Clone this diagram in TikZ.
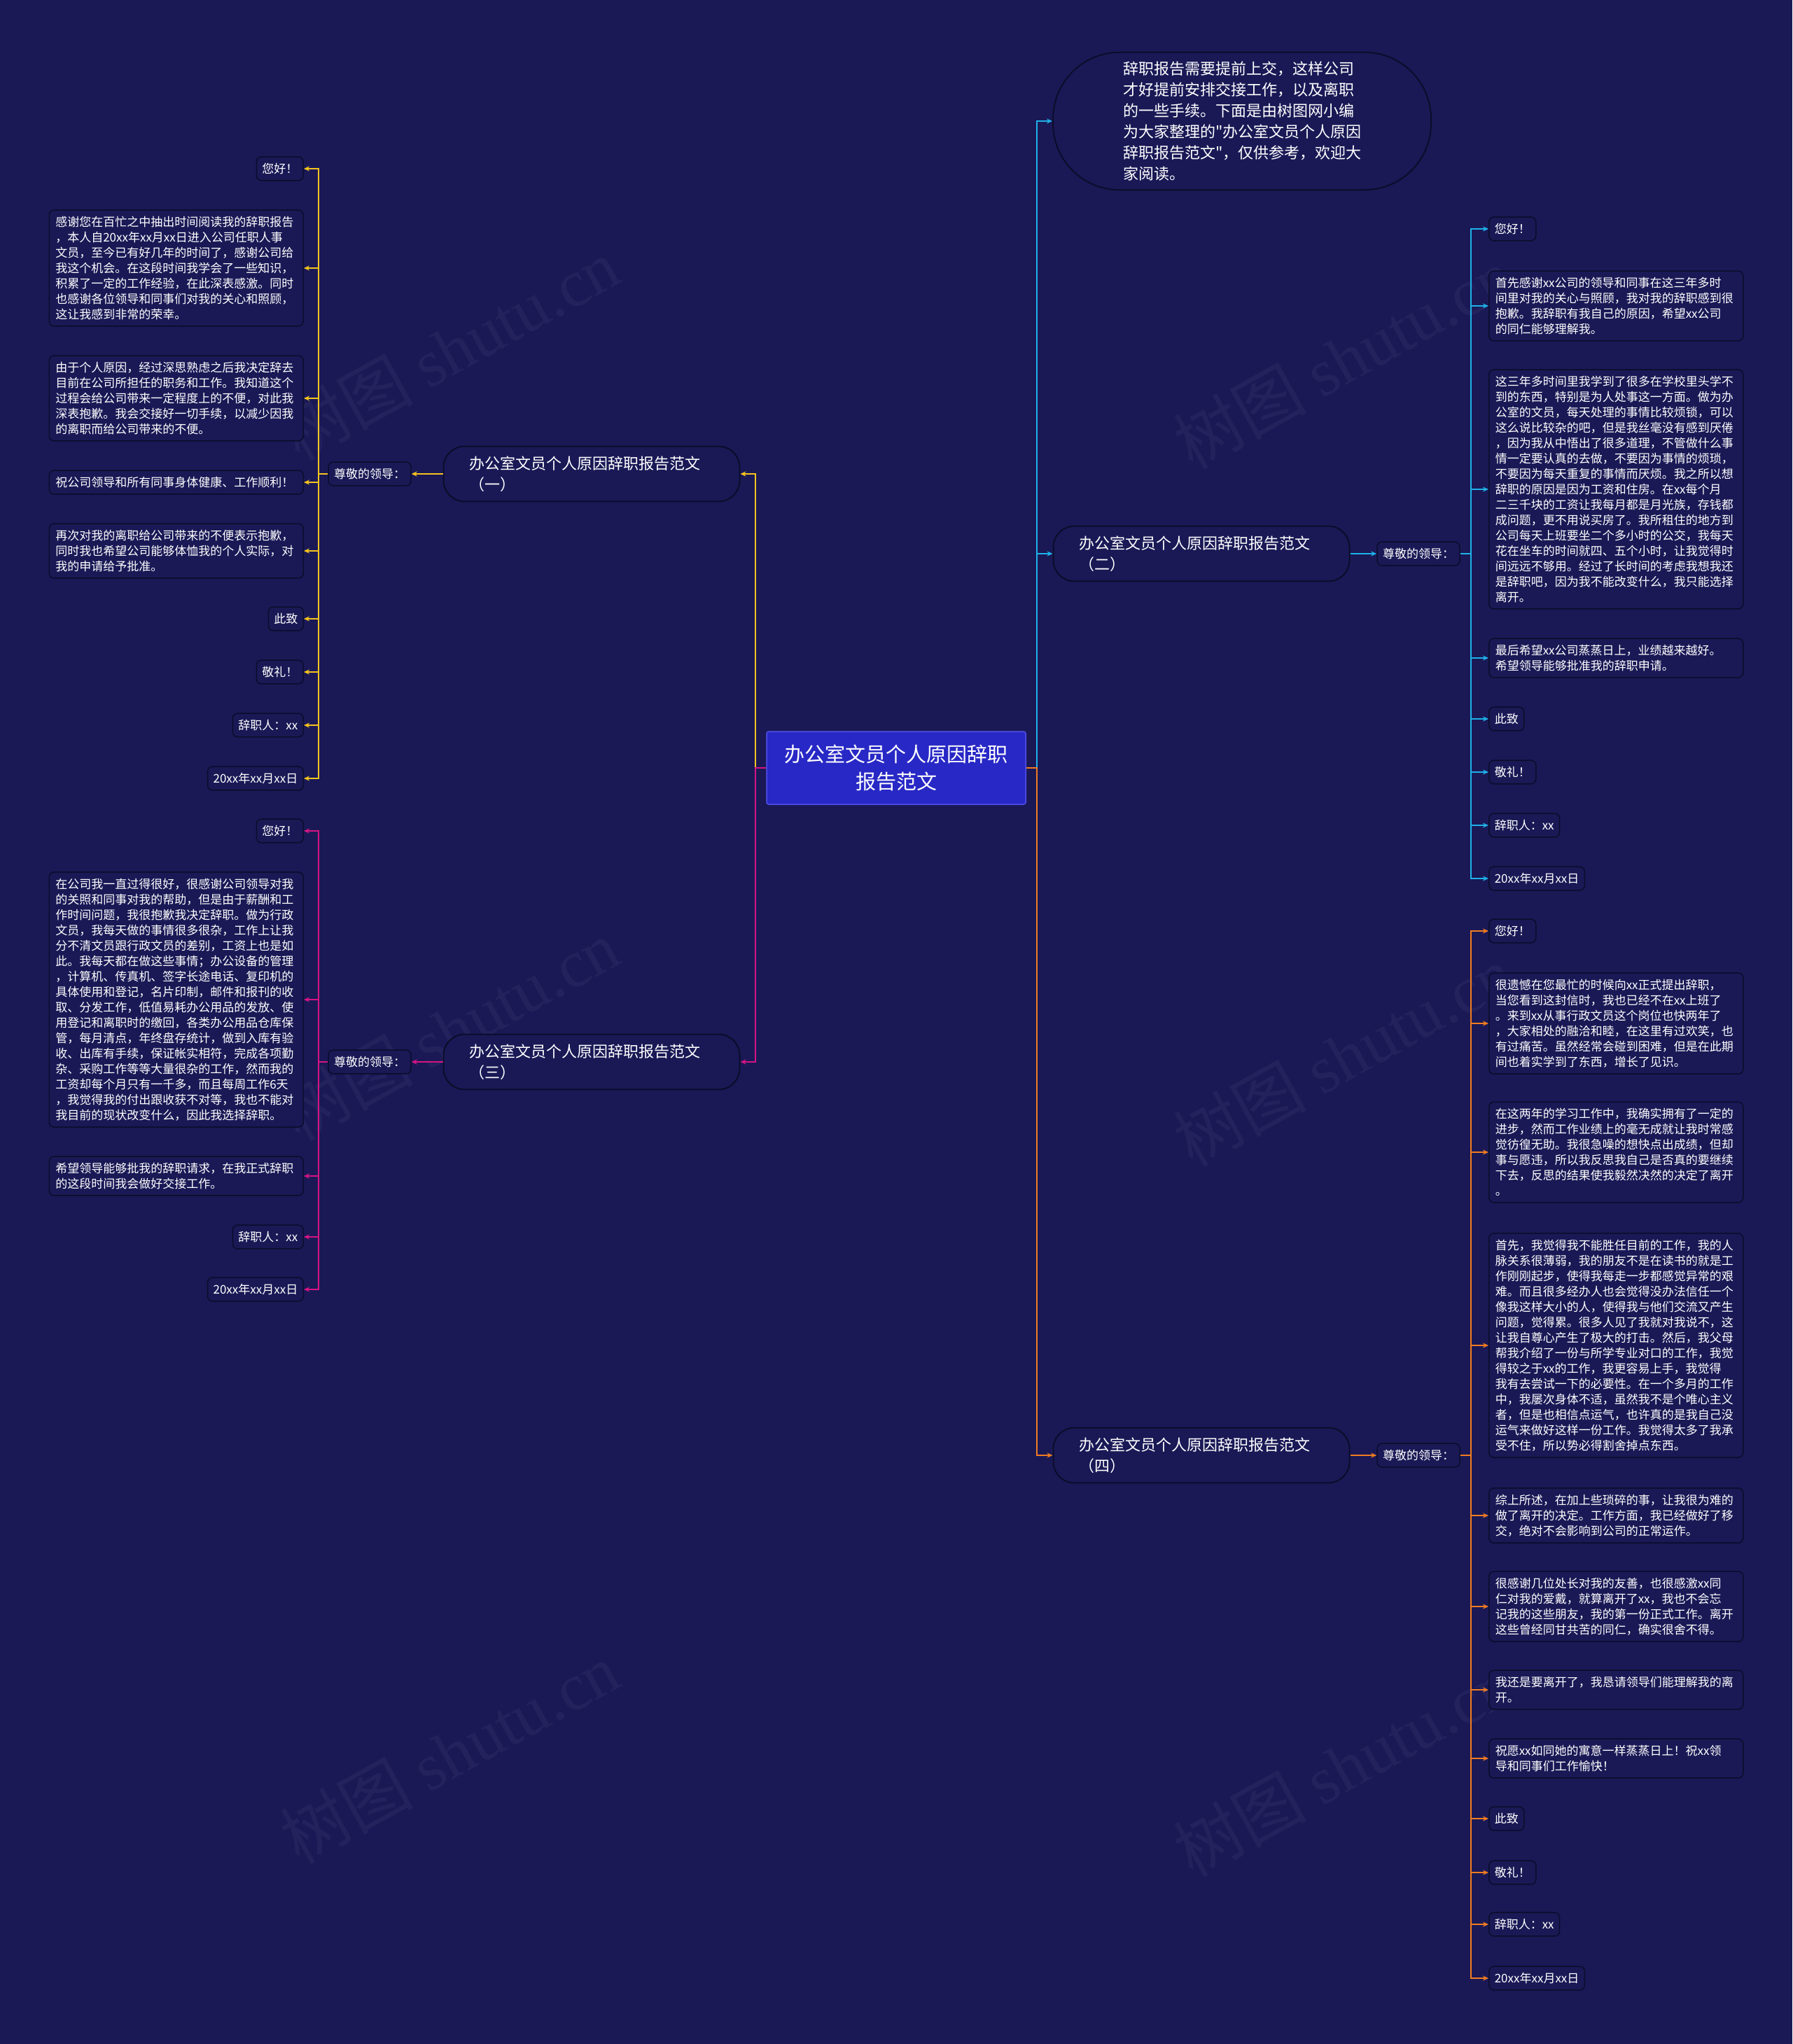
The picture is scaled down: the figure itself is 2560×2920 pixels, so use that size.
\documentclass[tikz,border=0pt]{standalone}
\usepackage{fontspec}
\setmainfont{Noto Sans CJK SC}[Ligatures=TeXOff]
\newfontfamily\wmfont{Liberation Serif}
\usetikzlibrary{arrows.meta}
\definecolor{bg}{RGB}{26,25,86}
\definecolor{edge}{RGB}{12,12,42}
\definecolor{ctrfill}{RGB}{40,40,198}
\definecolor{ctredge}{RGB}{80,80,235}
\definecolor{ylwc}{RGB}{246,196,30}
\definecolor{magc}{RGB}{214,20,130}
\definecolor{cync}{RGB}{30,178,232}
\definecolor{orgc}{RGB}{242,124,32}
\tikzset{
  x=1pt, y=-1pt,
  leaf/.style={draw=edge, fill=bg, rounded corners=7pt, line width=1.5pt, text=white,
    font=\fontsize{17}{22}\selectfont, inner xsep=8pt, inner ysep=9pt, align=left},
  leafw/.style={leaf, text width=345pt, inner xsep=9pt},
  branch/.style={draw=edge, fill=bg, line width=2pt, rounded corners=30pt, text=white,
    font=\fontsize{22}{30}\selectfont, align=left, text width=349pt, inner xsep=37pt, inner ysep=14pt},
  intro/.style={draw=edge, fill=bg, line width=2pt, rounded corners=95pt, text=white,
    font=\fontsize{22}{30}\selectfont, align=left, text width=340pt, inner xsep=100pt, inner ysep=13pt},
  ctr/.style={draw=ctredge, fill=ctrfill, line width=1.5pt, rounded corners=3pt, text=white,
    font=\fontsize{29}{39}\selectfont, align=center, minimum width=370pt, minimum height=104pt},
  conn/.style={line width=2pt, -{Stealth[length=8pt,width=7pt]}},
  cy/.style={conn, draw=cync},
  yl/.style={conn, draw=ylwc},
  mg/.style={conn, draw=magc},
  og/.style={conn, draw=orgc},
  wm/.style={text=white, opacity=0.045, rotate=29, font=\fontsize{95}{95}\selectfont},
}
\begin{document}
\begin{tikzpicture}
\useasboundingbox (0,0) rectangle (2560,2920);
\fill[bg] (0,0) rectangle (2560,2920);

% watermarks
\node[wm] (wm1) at (642,499) {树图 {\wmfont shutu.cn}};
\node[wm] (wm2) at (1918,512) {树图 {\wmfont shutu.cn}};
\node[wm] (wm3) at (642,1471) {树图 {\wmfont shutu.cn}};
\node[wm] (wm4) at (1918,1508) {树图 {\wmfont shutu.cn}};
\node[wm] (wm5) at (642,2504) {树图 {\wmfont shutu.cn}};
\node[wm] (wm6) at (1918,2523) {树图 {\wmfont shutu.cn}};

% center
\node[ctr] (ctr) at (1280,1097) {办公室文员个人原因辞职\\报告范文};

% intro
\node[intro] (intro) at (1774,173) {辞职报告需要提前上交，这样公司\\才好提前安排交接工作，以及离职\\的一些手续。下面是由树图网小编\\为大家整理的"办公室文员个人原因\\辞职报告范文"，仅供参考，欢迎大\\家阅读。};

% branches
\node[branch] (b1) at (845,677) {办公室文员个人原因辞职报告范文\\（一）};
\node[branch] (b3) at (845,1517) {办公室文员个人原因辞职报告范文\\（三）};
\node[branch] (b2) at (1716,791) {办公室文员个人原因辞职报告范文\\（二）};
\node[branch] (b4) at (1716,2079) {办公室文员个人原因辞职报告范文\\（四）};

% labels
\node[leaf] (lab1) at (528,677) {尊敬的领导：};
\node[leaf] (lab3) at (528,1517) {尊敬的领导：};
\node[leaf] (lab2) at (2026,791) {尊敬的领导：};
\node[leaf] (lab4) at (2026,2079) {尊敬的领导：};

% left (一) leaves
\node[leaf, anchor=east] (l1a) at (434,241) {您好！};
\node[leafw, anchor=east] (l1b) at (434,383) {感谢您在百忙之中抽出时间阅读我的辞职报告\\，本人自20xx年xx月xx日进入公司任职人事\\文员，至今已有好几年的时间了，感谢公司给\\我这个机会。在这段时间我学会了一些知识，\\积累了一定的工作经验，在此深表感激。同时\\也感谢各位领导和同事们对我的关心和照顾，\\这让我感到非常的荣幸。};
\node[leafw, anchor=east] (l1c) at (434,569) {由于个人原因，经过深思熟虑之后我决定辞去\\目前在公司所担任的职务和工作。我知道这个\\过程会给公司带来一定程度上的不便，对此我\\深表抱歉。我会交接好一切手续，以减少因我\\的离职而给公司带来的不便。};
\node[leafw, anchor=east] (l1d) at (434,689) {祝公司领导和所有同事身体健康、工作顺利！};
\node[leafw, anchor=east] (l1e) at (434,787) {再次对我的离职给公司带来的不便表示抱歉，\\同时我也希望公司能够体恤我的个人实际，对\\我的申请给予批准。};
\node[leaf, anchor=east] (l1f) at (434,884) {此致};
\node[leaf, anchor=east] (l1g) at (434,960) {敬礼！};
\node[leaf, anchor=east] (l1h) at (434,1036) {辞职人：xx};
\node[leaf, anchor=east] (l1i) at (434,1112) {20xx年xx月xx日};

% left (三) leaves
\node[leaf, anchor=east] (l3a) at (434,1187) {您好！};
\node[leafw, anchor=east] (l3b) at (434,1428) {在公司我一直过得很好，很感谢公司领导对我\\的关照和同事对我的帮助，但是由于薪酬和工\\作时间问题，我很抱歉我决定辞职。做为行政\\文员，我每天做的事情很多很杂，工作上让我\\分不清文员跟行政文员的差别，工资上也是如\\此。我每天都在做这些事情；办公设备的管理\\，计算机、传真机、签字长途电话、复印机的\\具体使用和登记，名片印制，邮件和报刊的收\\取、分发工作，低值易耗办公用品的发放、使\\用登记和离职时的缴回，各类办公用品仓库保\\管，每月清点，年终盘存统计，做到入库有验\\收、出库有手续，保证帐实相符，完成各项勤\\杂、采购工作等等大量很杂的工作，然而我的\\工资却每个月只有一千多，而且每周工作6天\\，我觉得我的付出跟收获不对等，我也不能对\\我目前的现状改变什么，因此我选择辞职。};
\node[leafw, anchor=east] (l3c) at (434,1680) {希望领导能够批我的辞职请求，在我正式辞职\\的这段时间我会做好交接工作。};
\node[leaf, anchor=east] (l3d) at (434,1767) {辞职人：xx};
\node[leaf, anchor=east] (l3e) at (434,1842) {20xx年xx月xx日};

% right (二) leaves
\node[leaf, anchor=west] (r2a) at (2126,327) {您好！};
\node[leafw, anchor=west] (r2b) at (2126,437) {首先感谢xx公司的领导和同事在这三年多时\\间里对我的关心与照顾，我对我的辞职感到很\\抱歉。我辞职有我自己的原因，希望xx公司\\的同仁能够理解我。};
\node[leafw, anchor=west] (r2c) at (2126,699) {这三年多时间里我学到了很多在学校里头学不\\到的东西，特别是为人处事这一方面。做为办\\公室的文员，每天处理的事情比较烦锁，可以\\这么说比较杂的吧，但是我丝毫没有感到厌倦\\，因为我从中悟出了很多道理，不管做什么事\\情一定要认真的去做，不要因为事情的烦琐，\\不要因为每天重复的事情而厌烦。我之所以想\\辞职的原因是因为工资和住房。在xx每个月\\二三千块的工资让我每月都是月光族，存钱都\\成问题，更不用说买房了。我所租住的地方到\\公司每天上班要坐二个多小时的公交，我每天\\花在坐车的时间就四、五个小时，让我觉得时\\间远远不够用。经过了长时间的考虑我想我还\\是辞职吧，因为我不能改变什么，我只能选择\\离开。};
\node[leafw, anchor=west] (r2d) at (2126,940) {最后希望xx公司蒸蒸日上，业绩越来越好。\\希望领导能够批准我的辞职申请。};
\node[leaf, anchor=west] (r2e) at (2126,1027) {此致};
\node[leaf, anchor=west] (r2f) at (2126,1103) {敬礼！};
\node[leaf, anchor=west] (r2g) at (2126,1179) {辞职人：xx};
\node[leaf, anchor=west] (r2h) at (2126,1255) {20xx年xx月xx日};

% right (四) leaves
\node[leaf, anchor=west] (r4a) at (2126,1330) {您好！};
\node[leafw, anchor=west] (r4b) at (2126,1462) {很遗憾在您最忙的时候向xx正式提出辞职，\\当您看到这封信时，我也已经不在xx上班了\\。来到xx从事行政文员这个岗位也快两年了\\，大家相处的融洽和睦，在这里有过欢笑，也\\有过痛苦。虽然经常会碰到困难，但是在此期\\间也着实学到了东西，增长了见识。};
\node[leafw, anchor=west] (r4c) at (2126,1646) {在这两年的学习工作中，我确实拥有了一定的\\进步，然而工作业绩上的毫无成就让我时常感\\觉彷徨无助。我很急噪的想快点出成绩，但却\\事与愿违，所以我反思我自己是否真的要继续\\下去，反思的结果使我毅然决然的决定了离开\\。};
\node[leafw, anchor=west] (r4d) at (2126,1922) {首先，我觉得我不能胜任目前的工作，我的人\\脉关系很薄弱，我的朋友不是在读书的就是工\\作刚刚起步，使得我每走一步都感觉异常的艰\\难。而且很多经办人也会觉得没办法信任一个\\像我这样大小的人，使得我与他们交流又产生\\问题，觉得累。很多人见了我就对我说不，这\\让我自尊心产生了极大的打击。然后，我父母\\帮我介绍了一份与所学专业对口的工作，我觉\\得较之于xx的工作，我更容易上手，我觉得\\我有去尝试一下的必要性。在一个多月的工作\\中，我屡次身体不适，虽然我不是个唯心主义\\者，但是也相信点运气，也许真的是我自己没\\运气来做好这样一份工作。我觉得太多了我承\\受不住，所以势必得割舍掉点东西。};
\node[leafw, anchor=west] (r4e) at (2126,2165) {综上所述，在加上些琐碎的事，让我很为难的\\做了离开的决定。工作方面，我已经做好了移\\交，绝对不会影响到公司的正常运作。};
\node[leafw, anchor=west] (r4f) at (2126,2295) {很感谢几位处长对我的友善，也很感激xx同\\仁对我的爱戴，就算离开了xx，我也不会忘\\记我的这些朋友，我的第一份正式工作。离开\\这些曾经同甘共苦的同仁，确实很舍不得。};
\node[leafw, anchor=west] (r4g) at (2126,2414) {我还是要离开了，我恳请领导们能理解我的离\\开。};
\node[leafw, anchor=west] (r4h) at (2126,2512) {祝愿xx如同她的寓意一样蒸蒸日上！祝xx领\\导和同事们工作愉快！};
\node[leaf, anchor=west] (r4i) at (2126,2598) {此致};
\node[leaf, anchor=west] (r4j) at (2126,2675) {敬礼！};
\node[leaf, anchor=west] (r4k) at (2126,2749) {辞职人：xx};
\node[leaf, anchor=west] (r4l) at (2126,2826) {20xx年xx月xx日};

% center to branches
\draw[yl] (ctr.west) -- ++(-15,0) |- (b1.east);
\draw[mg] (ctr.west) -- ++(-15,0) |- (b3.east);
\draw[cy] (ctr.east) -- ++(15,0) |- (intro.west);
\draw[cy] (ctr.east) -- ++(15,0) |- (b2.west);
\draw[og] (ctr.east) -- ++(15,0) |- (b4.west);

% branches to labels
\draw[yl] (b1.west) -- (lab1.east);
\draw[mg] (b3.west) -- (lab3.east);
\draw[cy] (b2.east) -- (lab2.west);
\draw[og] (b4.east) -- (lab4.west);

% labels to leaves
\foreach \n in {l1a,l1b,l1c,l1d,l1e,l1f,l1g,l1h,l1i}
  \draw[yl] (lab1.west) -- ++(-13,0) |- (\n.east);
\foreach \n in {l3a,l3b,l3c,l3d,l3e}
  \draw[mg] (lab3.west) -- ++(-13,0) |- (\n.east);
\foreach \n in {r2a,r2b,r2c,r2d,r2e,r2f,r2g,r2h}
  \draw[cy] (lab2.east) -- ++(15,0) |- (\n.west);
\foreach \n in {r4a,r4b,r4c,r4d,r4e,r4f,r4g,r4h,r4i,r4j,r4k,r4l}
  \draw[og] (lab4.east) -- ++(15,0) |- (\n.west);
\end{tikzpicture}
\end{document}
